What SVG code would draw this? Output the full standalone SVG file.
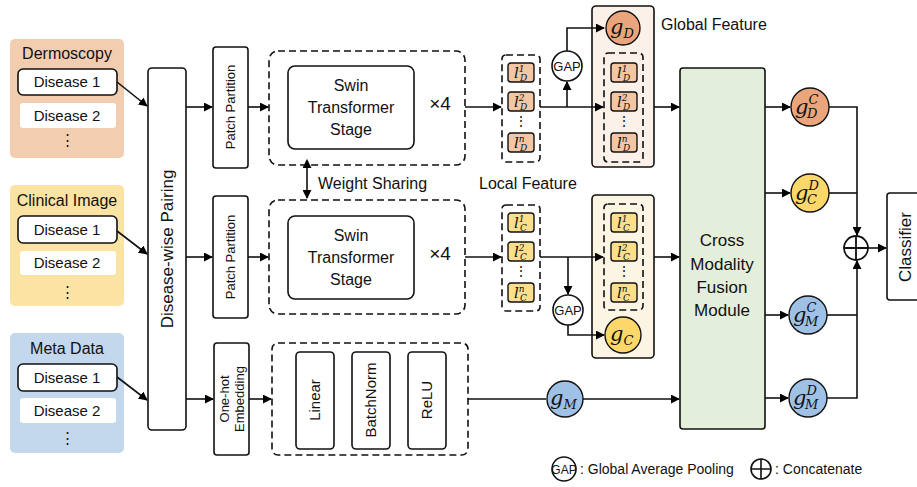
<svg xmlns="http://www.w3.org/2000/svg" width="917" height="487" viewBox="0 0 917 487">
  <defs>
    <marker id="arr" viewBox="0 0 10 10" refX="9" refY="5" markerWidth="9" markerHeight="9" markerUnits="userSpaceOnUse" orient="auto">
      <path d="M0,0 L10,5 L0,10 z" fill="#000"/>
    </marker>
    <marker id="arrS" viewBox="0 0 10 10" refX="1" refY="5" markerWidth="9" markerHeight="9" markerUnits="userSpaceOnUse" orient="auto-start-reverse">
      <path d="M0,0 L10,5 L0,10 z" fill="#000"/>
    </marker>
    <style>
      text { font-family: "Liberation Sans", Arial, sans-serif; fill: #111; }
      .box { fill: #fff; stroke: #111; stroke-width: 1.6; }
      .dash { fill: none; stroke: #111; stroke-width: 1.6; stroke-dasharray: 7 4; }
      .ln { fill: none; stroke: #111; stroke-width: 1.6; }
      .la { fill: none; stroke: #111; stroke-width: 1.6; marker-end: url(#arr); }
      .t16 { font-size: 16px; text-anchor: middle; }
      .t15 { font-size: 15px; text-anchor: middle; }
      .t14 { font-size: 14px; text-anchor: middle; }
      .t13 { font-size: 13px; text-anchor: middle; }
      .m { font-family: "DejaVu Serif", "Liberation Serif", serif; font-style: italic; }
      .itemD { fill: #f3c7a4; stroke: #111; stroke-width: 1.4; }
      .itemC { fill: #fbdf8c; stroke: #111; stroke-width: 1.4; }
    </style>
  </defs>

  <!-- input groups -->
  <g id="dermoscopy">
    <rect x="10" y="39" width="114" height="119" rx="5" fill="#f3cdb0"/>
    <text x="67" y="59" class="t16">Dermoscopy</text>
    <rect x="18" y="69" width="99" height="26" rx="5" class="box"/>
    <text x="67" y="87" class="t15">Disease 1</text>
    <rect x="20" y="103" width="96" height="25" rx="3" fill="#fff"/>
    <text x="67" y="121" class="t15">Disease 2</text>
    <text x="67" y="145" class="t15">⋮</text>
  </g>
  <g id="clinical">
    <rect x="10" y="185" width="114" height="121" rx="5" fill="#fbe3a3"/>
    <text x="67" y="206" class="t16">Clinical Image</text>
    <rect x="18" y="216" width="99" height="27" rx="5" class="box"/>
    <text x="67" y="235" class="t15">Disease 1</text>
    <rect x="20" y="251" width="96" height="24" rx="3" fill="#fff"/>
    <text x="67" y="268" class="t15">Disease 2</text>
    <text x="67" y="297" class="t15">⋮</text>
  </g>
  <g id="meta">
    <rect x="10" y="333" width="114" height="120" rx="5" fill="#c4d8ed"/>
    <text x="67" y="354" class="t16">Meta Data</text>
    <rect x="18" y="364" width="99" height="27" rx="5" class="box"/>
    <text x="67" y="383" class="t15">Disease 1</text>
    <rect x="20" y="398" width="96" height="25" rx="3" fill="#fff"/>
    <text x="67" y="416" class="t15">Disease 2</text>
    <text x="67" y="443" class="t15">⋮</text>
  </g>

  <g id="pairing">
    <rect x="148" y="68" width="38" height="362" rx="4" class="box"/>
    <text transform="translate(173,249) rotate(-90)" font-size="17" text-anchor="middle">Disease-wise Pairing</text>
  </g>

  <g id="patch1">
    <rect x="213" y="47" width="35" height="121" rx="3" class="box"/>
    <text transform="translate(235,107) rotate(-90)" class="t13">Patch Partition</text>
  </g>
  <g id="patch2">
    <rect x="213" y="196" width="35" height="122" rx="3" class="box"/>
    <text transform="translate(235,257) rotate(-90)" class="t13">Patch Partition</text>
  </g>
  <g id="onehot">
    <rect x="214" y="343" width="35" height="112" rx="3" class="box"/>
    <text transform="translate(229,399) rotate(-90)" class="t13">One-hot</text>
    <text transform="translate(244,399) rotate(-90)" class="t13">Embedding</text>
  </g>

  <g id="swin1">
    <rect x="269" y="51" width="196" height="114" rx="9" class="dash"/>
    <rect x="288" y="66" width="126" height="83" rx="7" class="box"/>
    <text x="351" y="91" class="t16">Swin</text>
    <text x="351" y="113" class="t16">Transformer</text>
    <text x="351" y="135" class="t16">Stage</text>
    <text x="440" y="110" font-size="19" text-anchor="middle">×4</text>
  </g>
  <g id="swin2">
    <rect x="269" y="200" width="196" height="114" rx="9" class="dash"/>
    <rect x="288" y="216" width="126" height="83" rx="7" class="box"/>
    <text x="351" y="241" class="t16">Swin</text>
    <text x="351" y="263" class="t16">Transformer</text>
    <text x="351" y="285" class="t16">Stage</text>
    <text x="440" y="260" font-size="19" text-anchor="middle">×4</text>
  </g>
  <text x="318" y="189" font-size="16">Weight Sharing</text>

  <g id="mlp">
    <rect x="272" y="343" width="196" height="112" rx="6" class="dash"/>
    <rect x="296" y="352" width="38" height="97" rx="4" class="box"/>
    <text transform="translate(320,400) rotate(-90)" class="t15">Linear</text>
    <rect x="352" y="352" width="38" height="97" rx="4" class="box"/>
    <text transform="translate(376,400) rotate(-90)" class="t15">BatchNorm</text>
    <rect x="408" y="352" width="38" height="97" rx="4" class="box"/>
    <text transform="translate(432,400) rotate(-90)" class="t15">ReLU</text>
  </g>

  <!-- local feature stacks -->
  <g id="localD">
    <rect x="502" y="55" width="38" height="107" rx="4" class="dash"/>
    <rect x="508" y="63" width="26" height="19" rx="3" class="itemD"/>
    <text x="514" y="78" font-size="15" class="m">l<tspan font-size="9" dy="-6">1</tspan><tspan font-size="9" x="520" dy="9">D</tspan></text>
    <rect x="508" y="92" width="26" height="19" rx="3" class="itemD"/>
    <text x="514" y="107" font-size="15" class="m">l<tspan font-size="9" dy="-6">2</tspan><tspan font-size="9" x="520" dy="9">D</tspan></text>
    <text x="521" y="126" class="t14">⋮</text>
    <rect x="508" y="133" width="26" height="19" rx="3" class="itemD"/>
    <text x="514" y="148" font-size="15" class="m">l<tspan font-size="9" dy="-6">n</tspan><tspan font-size="9" x="520" dy="9">D</tspan></text>
  </g>
  <g id="localC">
    <rect x="502" y="205" width="38" height="106" rx="4" class="dash"/>
    <rect x="508" y="213" width="26" height="19" rx="3" class="itemC"/>
    <text x="514" y="228" font-size="15" class="m">l<tspan font-size="9" dy="-6">1</tspan><tspan font-size="9" x="520" dy="9">C</tspan></text>
    <rect x="508" y="242" width="26" height="19" rx="3" class="itemC"/>
    <text x="514" y="257" font-size="15" class="m">l<tspan font-size="9" dy="-6">2</tspan><tspan font-size="9" x="520" dy="9">C</tspan></text>
    <text x="521" y="276" class="t14">⋮</text>
    <rect x="508" y="283" width="26" height="19" rx="3" class="itemC"/>
    <text x="514" y="298" font-size="15" class="m">l<tspan font-size="9" dy="-6">n</tspan><tspan font-size="9" x="520" dy="9">C</tspan></text>
  </g>
  <text x="479" y="189" font-size="16">Local Feature</text>

  <!-- global feature boxes -->
  <g id="globalD">
    <rect x="592" y="6" width="62" height="161" rx="4" fill="#fbf1e8" stroke="#111" stroke-width="1.6"/>
    <circle cx="623" cy="28" r="17" fill="#eba57c" stroke="#111" stroke-width="1.4"/>
    <text x="610" y="34" font-size="21" class="m">g<tspan font-size="13" dy="4">D</tspan></text>
    <rect x="604" y="53" width="39" height="109" rx="4" class="dash"/>
    <rect x="611" y="63" width="26" height="19" rx="3" class="itemD"/>
    <text x="617" y="78" font-size="15" class="m">l<tspan font-size="9" dy="-6">1</tspan><tspan font-size="9" x="623" dy="9">D</tspan></text>
    <rect x="611" y="92" width="26" height="19" rx="3" class="itemD"/>
    <text x="617" y="107" font-size="15" class="m">l<tspan font-size="9" dy="-6">2</tspan><tspan font-size="9" x="623" dy="9">D</tspan></text>
    <text x="624" y="126" class="t14">⋮</text>
    <rect x="611" y="133" width="26" height="19" rx="3" class="itemD"/>
    <text x="617" y="148" font-size="15" class="m">l<tspan font-size="9" dy="-6">n</tspan><tspan font-size="9" x="623" dy="9">D</tspan></text>
  </g>
  <text x="661" y="30" font-size="16">Global Feature</text>
  <g id="globalC">
    <rect x="592" y="195" width="62" height="163" rx="4" fill="#fdf5e3" stroke="#111" stroke-width="1.6"/>
    <rect x="604" y="204" width="39" height="106" rx="4" class="dash"/>
    <rect x="611" y="213" width="26" height="19" rx="3" class="itemC"/>
    <text x="617" y="228" font-size="15" class="m">l<tspan font-size="9" dy="-6">1</tspan><tspan font-size="9" x="623" dy="9">C</tspan></text>
    <rect x="611" y="242" width="26" height="19" rx="3" class="itemC"/>
    <text x="617" y="257" font-size="15" class="m">l<tspan font-size="9" dy="-6">2</tspan><tspan font-size="9" x="623" dy="9">C</tspan></text>
    <text x="624" y="276" class="t14">⋮</text>
    <rect x="611" y="283" width="26" height="19" rx="3" class="itemC"/>
    <text x="617" y="298" font-size="15" class="m">l<tspan font-size="9" dy="-6">n</tspan><tspan font-size="9" x="623" dy="9">C</tspan></text>
    <circle cx="623" cy="335" r="18" fill="#fcd86b" stroke="#111" stroke-width="1.4"/>
    <text x="610" y="341" font-size="21" class="m">g<tspan font-size="13" dy="4">C</tspan></text>
  </g>

  <g id="gapD">
    <circle cx="567" cy="66" r="15" class="box"/>
    <text x="567" y="71" font-size="13" text-anchor="middle">GAP</text>
  </g>
  <g id="gapC">
    <circle cx="568" cy="310" r="15" class="box"/>
    <text x="568" y="315" font-size="13" text-anchor="middle">GAP</text>
  </g>

  <g id="gM">
    <circle cx="565" cy="399" r="18" fill="#9ec1e5" stroke="#111" stroke-width="1.4"/>
    <text x="550" y="405" font-size="21" class="m">g<tspan font-size="13" dy="4">M</tspan></text>
  </g>

  <g id="fusion">
    <rect x="680" y="68" width="85" height="361" rx="3" fill="#e3efda" stroke="#111" stroke-width="1.6"/>
    <text x="722" y="246" font-size="17" text-anchor="middle">Cross</text>
    <text x="722" y="270" font-size="17" text-anchor="middle">Modality</text>
    <text x="722" y="293" font-size="17" text-anchor="middle">Fusion</text>
    <text x="722" y="316" font-size="17" text-anchor="middle">Module</text>
  </g>

  <g id="gDC">
    <circle cx="810" cy="107" r="19" fill="#eba57c" stroke="#111" stroke-width="1.4"/>
    <text x="795" y="114" font-size="21" class="m">g<tspan font-size="13" dy="-10">C</tspan><tspan font-size="13" x="807" dy="14">D</tspan></text>
  </g>
  <g id="gCD">
    <circle cx="810" cy="193" r="19" fill="#fcd86b" stroke="#111" stroke-width="1.4"/>
    <text x="795" y="200" font-size="21" class="m">g<tspan font-size="13" dy="-10">D</tspan><tspan font-size="13" x="807" dy="14">C</tspan></text>
  </g>
  <g id="gMC">
    <circle cx="808" cy="315" r="19" fill="#9ec1e5" stroke="#111" stroke-width="1.4"/>
    <text x="793" y="322" font-size="21" class="m">g<tspan font-size="13" dy="-10">C</tspan><tspan font-size="13" x="805" dy="14">M</tspan></text>
  </g>
  <g id="gMD">
    <circle cx="808" cy="398" r="19" fill="#9ec1e5" stroke="#111" stroke-width="1.4"/>
    <text x="793" y="405" font-size="21" class="m">g<tspan font-size="13" dy="-10">D</tspan><tspan font-size="13" x="805" dy="14">M</tspan></text>
  </g>

  <g id="concat">
    <circle cx="856" cy="248" r="12" fill="#fff" stroke="#111" stroke-width="1.8"/>
    <path d="M844,248 H868 M856,236 V260" stroke="#111" stroke-width="1.8"/>
  </g>
  <g id="classifier">
    <rect x="887" y="193" width="40" height="107" rx="3" class="box"/>
    <text transform="translate(911,247) rotate(-90)" font-size="17" text-anchor="middle">Classifier</text>
  </g>

  <!-- legend -->
  <g id="legend">
    <circle cx="564" cy="469" r="12" class="box"/>
    <text x="564" y="474" font-size="12" text-anchor="middle">GAP</text>
    <text x="580" y="474" font-size="14">: Global Average Pooling</text>
    <circle cx="761" cy="469" r="10" fill="#fff" stroke="#111" stroke-width="1.6"/>
    <path d="M751,469 H771 M761,459 V479" stroke="#111" stroke-width="1.6"/>
    <text x="775" y="474" font-size="14">: Concatenate</text>
  </g>

  <!-- connectors -->
  <g id="connectors">
    <path d="M117,82 L147,106" class="la"/>
    <path d="M117,231 L147,254" class="la"/>
    <path d="M117,377 L147,400" class="la"/>
    <path d="M186,107 H212" class="la"/>
    <path d="M186,257 H212" class="la"/>
    <path d="M186,399 H213" class="la"/>
    <path d="M248,107 H268" class="la"/>
    <path d="M248,257 H268" class="la"/>
    <path d="M249,399 H271" class="la"/>
    <path d="M307,167 V198" style="fill:none;stroke:#111;stroke-width:1.6;marker-start:url(#arrS);marker-end:url(#arr)"/>
    <path d="M465,107 H501" class="la"/>
    <path d="M465,257 H501" class="la"/>
    <path d="M540,107 H603" class="la"/>
    <path d="M567,107 V82" class="la"/>
    <path d="M567,51 V28 H604" class="la"/>
    <path d="M540,257 H603" class="la"/>
    <path d="M568,257 V294" class="la"/>
    <path d="M568,325 V335 H604" class="la"/>
    <path d="M468,399 H546" class="ln"/>
    <path d="M583,399 H679" class="la"/>
    <path d="M654,107 H679" class="la"/>
    <path d="M654,257 H679" class="la"/>
    <path d="M765,107 H790" class="la"/>
    <path d="M765,193 H790" class="la"/>
    <path d="M765,315 H788" class="la"/>
    <path d="M765,398 H788" class="la"/>
    <path d="M829,107 H857 V235" class="la"/>
    <path d="M829,193 H857" class="ln"/>
    <path d="M827,398 H857 V261" class="la"/>
    <path d="M827,315 H857" class="ln"/>
    <path d="M868,248 H886" class="la"/>
  </g>
</svg>
